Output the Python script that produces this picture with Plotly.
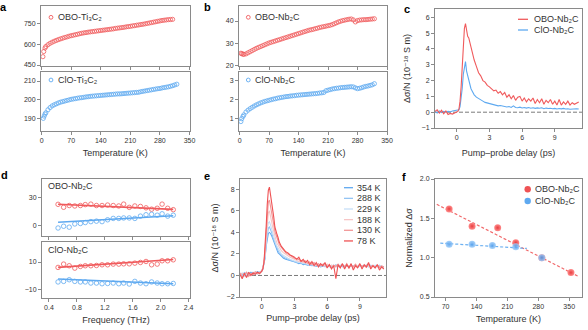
import plotly.graph_objects as go

# ---------------- data ----------------
# panel a
temp_a_obo = [3, 5, 8, 10, 15, 20, 25, 30, 35, 40, 45, 50, 55, 60, 65, 70, 75, 80, 85, 90,
              95, 100, 105, 110, 115, 120, 125, 130, 135, 140, 145, 150, 155, 160, 165, 170,
              175, 180, 185, 190, 195, 200, 205, 210, 215, 220, 225, 230, 235, 240, 245, 250,
              255, 260, 265, 270, 275, 280, 285, 290, 295, 300, 305, 310]
sigma_a_obo = [510, 547, 572, 583, 596, 606, 614, 621, 627, 633, 638, 643, 648, 652, 657, 661,
               664, 668, 671, 675, 678, 681, 683, 686, 688, 690, 692, 694, 696, 698, 700, 702,
               704, 706, 708, 710, 713, 715, 717, 719, 721, 724, 726, 728, 731, 733, 736, 738,
               741, 743, 746, 749, 752, 755, 758, 761, 764, 767, 770, 772, 774, 776, 777, 778]
temp_a_clo = [4, 6, 8, 10, 15, 20, 25, 30, 35, 40, 45, 50, 55, 60, 65, 70, 75, 80, 85, 90,
              95, 100, 105, 110, 115, 120, 125, 130, 135, 140, 145, 150, 155, 160, 165, 170,
              175, 180, 185, 190, 195, 200, 205, 210, 215, 220, 225, 230, 235, 240, 245, 250,
              255, 260, 265, 270, 275, 280, 285, 290, 295, 300, 305, 310, 315, 320]
sigma_a_clo = [190.0, 191.2, 192.3, 193.0, 194.6, 195.8, 196.7, 197.3, 197.8, 198.3, 198.7,
               199.0, 199.3, 199.6, 199.9, 200.2, 200.4, 200.6, 200.8, 201.0, 201.1, 201.3,
               201.5, 201.6, 201.8, 201.9, 202.0, 202.1, 202.2, 202.3, 202.4, 202.5, 202.6,
               202.7, 202.8, 202.9, 203.0, 203.1, 203.1, 203.2, 203.3, 203.4, 203.5, 203.6,
               203.7, 203.8, 203.9, 204.0, 204.3, 204.5, 204.7, 204.9, 205.1, 205.3, 205.5,
               205.7, 205.9, 206.0, 206.3, 206.5, 206.7, 206.9, 207.2, 207.5, 207.9, 208.3]

# panel b
temp_b = [3, 5, 8, 10, 15, 20, 25, 30, 35, 40, 45, 50, 55, 60, 65, 70, 75, 80, 85, 90,
          95, 100, 105, 110, 115, 120, 125, 130, 135, 140, 145, 150, 155, 160, 165, 170,
          175, 180, 185, 190, 195, 200, 205, 210, 215, 220, 225, 230, 235, 240, 245, 250,
          255, 260, 265, 270, 275, 280, 285, 290, 295, 300, 305, 310, 315, 320]
sigma_b_obo = [25.6, 25.4, 25.2, 25.1, 25.3, 25.8, 26.3, 26.8, 27.3, 27.8, 28.2, 28.6, 29.0,
               29.4, 29.8, 30.2, 30.5, 30.8, 31.1, 31.4, 31.7, 32.0, 32.3, 32.6, 32.9, 33.2,
               33.5, 33.8, 34.1, 34.4, 34.7, 35.0, 35.3, 35.6, 35.9, 36.1, 36.3, 36.6, 36.8,
               37.1, 37.3, 37.5, 37.7, 37.9, 38.1, 38.4, 38.8, 39.2, 39.6, 39.9, 40.2, 40.4,
               40.6, 40.8, 40.9, 40.5, 39.6, 40.2, 40.4, 40.5, 40.6, 40.6, 40.7, 40.8, 40.9, 41.0]
sigma_b_clo = [0.85, 1.0, 1.12, 1.2, 1.35, 1.45, 1.53, 1.6, 1.67, 1.73, 1.78, 1.83, 1.87, 1.91,
               1.94, 1.97, 2.0, 2.03, 2.05, 2.08, 2.1, 2.12, 2.14, 2.16, 2.17, 2.19, 2.2, 2.21,
               2.23, 2.24, 2.25, 2.26, 2.27, 2.28, 2.29, 2.3, 2.31, 2.32, 2.33, 2.35, 2.36, 2.38,
               2.47, 2.5, 2.53, 2.56, 2.58, 2.6, 2.61, 2.63, 2.64, 2.65, 2.66, 2.67, 2.68, 2.67,
               2.62, 2.58, 2.6, 2.63, 2.67, 2.7, 2.72, 2.75, 2.78, 2.84]

# panels c and e: pump-probe delay (ps)
delay = [-2.0, -1.8, -1.6, -1.4, -1.2, -1.0, -0.8, -0.6, -0.4, -0.2, 0.0,
         0.1, 0.2, 0.3, 0.4, 0.5, 0.6, 0.7, 0.8, 0.9, 1.0, 1.1, 1.2, 1.3, 1.4, 1.5, 1.6,
         1.8, 2.0, 2.2, 2.4, 2.6, 2.8, 3.0, 3.2, 3.4, 3.6, 3.8, 4.0, 4.2, 4.4, 4.6, 4.8,
         5.0, 5.2, 5.4, 5.6, 5.8, 6.0, 6.2, 6.4, 6.6, 6.8, 7.0, 7.2, 7.4, 7.6, 7.8, 8.0,
         8.2, 8.4, 8.6, 8.8, 9.0, 9.2, 9.4, 9.6, 9.8, 10.0, 10.2, 10.4, 10.6, 10.8, 11.0, 11.2]
c_obo = [0.05, 0.15, -0.05, 0.12, -0.1, 0.08, -0.15, -0.08, -0.12, -0.05, -0.02,
         0.05, 0.2, 0.7, 1.6, 2.9, 4.3, 5.3, 5.6, 5.2, 4.8, 4.7, 4.4, 4.1, 3.9, 3.6, 3.3,
         2.9, 2.5, 2.3, 2.0, 1.9, 1.7, 1.6, 1.5, 1.35, 1.4, 1.2, 1.3, 1.1, 1.25, 0.95, 1.1,
         0.85, 1.05, 0.75, 0.95, 1.0, 0.7, 0.9, 0.65, 0.85, 0.7, 0.9, 0.55, 0.8, 0.6, 0.85,
         0.5, 0.75, 0.6, 0.8, 0.5, 0.7, 0.45, 0.8, 0.45, 0.65, 0.5, 0.7, 0.45, 0.6, 0.5, 0.6, 0.65]
c_clo = [0.05, -0.05, 0.08, -0.02, 0.05, 0.0, 0.06, 0.02, 0.08, 0.1, 0.12,
         0.1, 0.15, 0.35, 0.8, 1.5, 2.4, 3.0, 3.2, 2.6, 2.3, 2.1, 1.8, 1.5, 1.35, 1.2, 1.1,
         0.95, 0.85, 0.75, 0.7, 0.62, 0.58, 0.55, 0.5, 0.45, 0.45, 0.4, 0.42, 0.38, 0.35, 0.33,
         0.36, 0.3, 0.4, 0.3, 0.28, 0.32, 0.27, 0.3, 0.26, 0.3, 0.25, 0.28, 0.24, 0.27, 0.25,
         0.28, 0.22, 0.26, 0.23, 0.25, 0.22, 0.24, 0.2, 0.23, 0.21, 0.24, 0.2, 0.22, 0.19,
         0.21, 0.2, 0.22, 0.2]

e_labels = ["354 K", "288 K", "229 K", "188 K", "130 K", "78 K"]
e_354 = [0.2, 0.0, 0.25, -0.1, 0.15, 0.3, 0.1, 0.2, 0.35, 0.25, 0.4,
         0.6, 1.0, 1.6, 2.7, 3.5, 3.9, 4.0, 3.9, 3.7, 3.4, 3.1, 2.8, 2.5, 2.3, 2.1, 2.0,
         1.8, 1.6, 1.5, 1.45, 1.35, 1.3, 1.25, 1.2, 1.1, 1.15, 1.0, 1.05, 0.95, 1.0, 0.9, 0.95,
         0.85, 1.0, 0.8, 0.9, 0.95, 0.8, 0.9, 0.75, 0.95, 0.8, 0.9, 0.85, 1.0, 0.8, 0.9, 0.75,
         0.95, 0.85, 0.9, 0.8, 1.0, 0.85, 0.9, 0.8, 1.05, 0.85, 0.9, 0.75, 0.95, 0.8, 0.85, 0.7]
e_288 = [0.1, 0.2, -0.05, 0.15, 0.25, 0.05, 0.3, 0.15, 0.2, 0.35, 0.45,
         0.7, 1.1, 1.7, 2.9, 3.9, 4.4, 4.5, 4.3, 4.0, 3.6, 3.3, 3.0, 2.7, 2.5, 2.3, 2.1,
         1.9, 1.7, 1.6, 1.5, 1.4, 1.35, 1.3, 1.2, 1.25, 1.1, 1.15, 1.0, 1.1, 0.95, 1.05, 0.9,
         1.0, 0.85, 0.95, 1.0, 0.8, 0.95, 0.85, 0.9, 0.8, 1.0, 0.85, 0.95, 0.8, 0.9, 0.95, 0.8,
         0.9, 0.85, 1.0, 0.8, 0.9, 0.85, 0.95, 0.9, 0.8, 0.95, 0.85, 0.9, 0.8, 0.95, 0.75, 0.8]
e_229 = [0.15, -0.1, 0.2, 0.05, 0.3, 0.1, 0.2, 0.25, 0.1, 0.3, 0.4,
         0.7, 1.2, 1.8, 3.2, 4.3, 4.9, 5.0, 4.7, 4.3, 3.9, 3.5, 3.2, 2.9, 2.7, 2.5, 2.3,
         2.0, 1.85, 1.7, 1.6, 1.5, 1.4, 1.35, 1.3, 1.2, 1.25, 1.1, 1.15, 1.0, 1.1, 0.95, 1.0,
         0.9, 1.05, 0.85, 0.95, 0.9, 1.0, 0.8, 0.95, 0.85, 0.9, 1.0, 0.8, 0.95, 0.85, 0.9, 0.8,
         1.0, 0.85, 0.9, 0.8, 0.95, 0.9, 0.85, 1.0, 0.8, 0.9, 0.85, 0.95, 0.8, 0.9, 0.85, 0.75]
e_188 = [-0.1, 0.2, 0.1, -0.15, 0.25, 0.05, 0.2, 0.3, 0.15, 0.25, 0.45,
         0.7, 1.2, 2.0, 3.6, 5.0, 5.8, 6.0, 5.6, 5.0, 4.5, 4.0, 3.6, 3.3, 3.0, 2.8, 2.6,
         2.3, 2.1, 1.95, 1.85, 1.7, 1.6, 1.5, 1.45, 1.3, 1.35, 1.2, 1.25, 1.1, 1.2, 1.0, 1.1,
         0.95, 1.05, 0.9, 1.0, 0.85, 1.05, 0.8, 0.95, 0.9, 0.8, 1.0, 0.85, 1.05, 0.8, 0.95, 0.85,
         1.0, 0.75, 0.95, 0.85, 1.05, 0.8, 0.9, 0.85, 1.0, 0.75, 0.95, 0.8, 0.9, 0.85, 0.8, 0.7]
e_130 = [0.25, -0.2, 0.1, 0.3, -0.1, 0.2, 0.05, 0.35, 0.2, 0.15, 0.4,
         0.7, 1.3, 2.2, 4.0, 5.8, 6.8, 7.0, 6.5, 5.9, 5.2, 4.7, 4.1, 3.7, 3.5, 3.2, 2.9,
         2.6, 2.3, 2.1, 2.0, 1.85, 1.75, 1.6, 1.55, 1.45, 1.4, 1.3, 1.35, 1.15, 1.25, 1.05, 1.2,
         0.95, 1.1, 0.9, 1.05, 1.1, 0.8, 1.0, 0.7, 0.95, 0.85, 1.05, 0.75, 1.0, 0.8, 1.1, 0.7,
         0.95, 0.8, 1.05, 0.75, 1.0, 0.85, 0.9, 0.75, 1.05, 0.8, 0.95, 0.7, 1.0, 0.75, 0.9, 0.8]
e_78 = [0.1, -0.3, 0.2, -0.2, 0.3, 0.0, 0.25, 0.1, 0.3, 0.2, 0.4,
        0.6, 1.2, 2.5, 4.5, 6.6, 7.9, 8.2, 7.6, 7.0, 6.1, 5.4, 4.5, 4.0, 3.8, 3.5, 3.1,
        2.7, 2.4, 2.2, 2.1, 1.9, 1.8, 1.7, 1.5, 1.7, 1.3, 1.5, 1.2, 1.4, 1.0, 1.3, 0.9,
        1.2, 0.8, 1.1, 0.9, 1.2, 0.7, 1.0, 0.6, 0.9, -0.3, 1.0, 0.7, 1.1, 0.6, 1.0, 0.7,
        1.1, 0.5, 0.9, 0.7, 1.1, 0.6, 1.0, 0.8, 1.2, 0.6, 0.9, 0.7, 1.0, 0.5, 0.8, 0.6]

# panel d: frequency (THz)
freq_d = [0.53, 0.61, 0.69, 0.77, 0.85, 0.92, 1.00, 1.08, 1.16, 1.24, 1.32, 1.40, 1.47,
          1.55, 1.63, 1.71, 1.79, 1.87, 1.95, 2.02, 2.10, 2.18]
d_top_obo = [22.8, 19.6, 21.5, 21.0, 21.5, 22.5, 23.0, 21.5, 21.5, 22.0, 21.5, 21.0, 23.0,
             19.5, 21.0, 20.5, 19.0, 17.5, 18.5, 23.0, 18.5, 17.0]
d_top_clo = [-2.9, -1.0, -2.0, 1.5, 2.0, 3.0, 4.0, 4.5, 4.0, 6.0, 7.5, 7.5, 8.0, 8.0, 7.5,
             10.0, 11.5, 12.0, 11.0, 12.5, 10.0, 11.0]
d_bot_obo = [6.1, 8.5, 7.3, 5.6, 6.8, 7.3, 7.3, 7.5, 8.0, 8.0, 8.5, 8.5, 8.7, 8.7, 9.2,
             9.7, 10.4, 8.0, 8.5, 10.9, 10.9, 11.6]
d_bot_clo = [-4.4, -4.0, -2.8, -4.0, -4.4, -4.4, -5.2, -5.2, -5.7, -5.5, -5.2, -5.7, -5.2,
             -5.9, -4.0, -5.2, -5.7, -4.4, -5.2, -5.7, -5.7, -5.5]
fit_freq = [0.53, 2.18]
fit_top_obo = [22.8, 17.3]
fit_top_clo = [3.3, 10.4]
fit_bot_obo = [6.1, 11.8]
fit_bot_clo = [-2.3, -5.7]

# panel f
temp_f_obo = [78, 130, 188, 229, 288, 354]
norm_f_obo = [1.62, 1.40, 1.38, 1.19, 1.00, 0.81]
temp_f_clo = [78, 130, 176, 229, 288]
norm_f_clo = [1.17, 1.17, 1.155, 1.14, 1.00]
fit_f_obo_temp = [50, 370]
fit_f_obo = [1.678, 0.764]
fit_f_clo_temp = [58, 254]
fit_f_clo = [1.185, 1.117]

assert len(temp_a_obo) == len(sigma_a_obo)
assert len(temp_a_clo) == len(sigma_a_clo)
assert len(temp_b) == len(sigma_b_obo) == len(sigma_b_clo)
for arr in (c_obo, c_clo, e_354, e_288, e_229, e_188, e_130, e_78):
    assert len(arr) == len(delay), len(arr)
for arr in (d_top_obo, d_top_clo, d_bot_obo, d_bot_clo):
    assert len(arr) == len(freq_d)

# ---------------- style ----------------
W, H = 588, 330
FONT = "Liberation Sans, DejaVu Sans"
RED = "#F05A5C"
BLUE = "#5EA9F0"
AX = "#8a8a8a"
TXT = "#333333"
E_COLORS = ["#5FA8F0", "#93C4F3", "#C6DFF7", "#F7C6C6", "#F29696", "#EF5254"]
TICK_SIZE = 7
TITLE_SIZE = 9
LEG_SIZE = 9

SIG = "σ (S m⁻¹)"
DSN = "Δσ/N (10⁻¹⁸ S m)"
OBO_NB = "OBO-Nb₂C"
CLO_NB = "ClO-Nb₂C"


def fx(p):
    return p / W


def fy(p):
    return 1 - p / H


fig = go.Figure()
layout = dict(width=W, height=H, margin=dict(l=0, r=0, t=0, b=0),
              paper_bgcolor="white", plot_bgcolor="white", showlegend=False,
              font=dict(family=FONT, size=8, color=TXT))


def title(s, standoff):
    return dict(text=s, standoff=standoff, font=dict(family=FONT, size=TITLE_SIZE, color=TXT))


def add_axes(n, xd, yd, xr, yr, xticks, yticks, xlabels=True, xfmt=None, yfmt=None,
             xtitle=None, ytitle=None):
    common = dict(showline=True, mirror=True, linecolor=AX, linewidth=1, ticks="outside",
                  ticklen=3, tickwidth=1, tickcolor=AX, showgrid=False, zeroline=False,
                  tickfont=dict(size=TICK_SIZE, color=TXT, family=FONT), fixedrange=True,
                  automargin=False)
    sx = "" if n == 1 else str(n)
    xa = dict(common, domain=[fx(xd[0]), fx(xd[1])], range=xr, tickvals=xticks,
              showticklabels=xlabels, anchor="y" + sx, tickformat=xfmt)
    ya = dict(common, domain=[fy(yd[1]), fy(yd[0])], range=yr, tickvals=yticks,
              anchor="x" + sx, tickformat=yfmt)
    if xtitle:
        xa["title"] = title(*xtitle)
    if ytitle:
        ya["title"] = title(*ytitle)
    layout["xaxis" + sx] = xa
    layout["yaxis" + sx] = ya


def title_axes(n, xd, yd, ytitle):
    # invisible axis pair spanning two stacked boxes, carrying their shared y title
    hidden = dict(showline=False, showticklabels=False, ticks="", showgrid=False,
                  zeroline=False, fixedrange=True, automargin=False, range=[0, 1])
    layout[f"xaxis{n}"] = dict(hidden, domain=[fx(xd[0]), fx(xd[1])], anchor=f"y{n}")
    layout[f"yaxis{n}"] = dict(hidden, domain=[fy(yd[1]), fy(yd[0])], anchor=f"x{n}",
                               title=title(*ytitle))


temp_ticks = [0, 70, 140, 210, 280, 350]
add_axes(1, (41, 189.5), (6, 66), [-1.5, 350], [443, 874], temp_ticks, [450, 600, 750], False)
add_axes(2, (41, 189.5), (71.7, 130.7), [-1.5, 350], [183.4, 215], temp_ticks, [190, 200, 210],
         xtitle=("Temperature (K)", 6))
add_axes(3, (239, 387), (6, 66), [-1.5, 350], [19.9, 46.7], temp_ticks, [20, 30, 40], False)
add_axes(4, (239, 387), (71.7, 130.7), [-1.5, 350], [0.37, 3.47], temp_ticks, [1, 2, 3],
         xtitle=("Temperature (K)", 6))
add_axes(5, (435, 582), (9, 128), [-2, 11.5], [-1, 6.53], [0, 3, 6, 9],
         [-1, 0, 1, 2, 3, 4, 5, 6], xtitle=("Pump–probe delay (ps)", 9), ytitle=(DSN, 9))
add_axes(6, (42, 190), (179, 236), [0.3, 2.42], [-11.6, 50.3],
         [0.4, 0.8, 1.2, 1.6, 2.0, 2.4], [0, 30], False, ".1f")
add_axes(7, (42, 190), (241.7, 297.7), [0.3, 2.42], [-15.8, 24.7],
         [0.4, 0.8, 1.2, 1.6, 2.0, 2.4], [-10, 10], True, ".1f",
         xtitle=("Frequency (THz)", 6))
add_axes(8, (240, 386), (179, 297), [-2, 11.4], [-2, 8.96], [0, 3, 6, 9],
         [-2, 0, 2, 4, 6, 8], xtitle=("Pump–probe delay (ps)", 5), ytitle=(DSN, 6))
add_axes(9, (435, 582), (179, 297), [46, 379], [0.5, 2.0], [70, 140, 210, 280, 350],
         [0.5, 1.0, 1.5, 2.0], True, None, ".1f",
         xtitle=("Temperature (K)", 6), ytitle=("Normalized Δσ", 5))
title_axes(10, (41, 189.5), (6, 130.7), (SIG, 20))
title_axes(11, (239, 387), (6, 130.7), (SIG, 18))
title_axes(12, (42, 190), (179, 297.7), ("Δσ (S m⁻¹)", 21))


def open_markers(x, y, n, color, size=4.2):
    sx = "" if n == 1 else str(n)
    fig.add_trace(go.Scatter(x=x, y=y, xaxis="x" + sx, yaxis="y" + sx, mode="markers",
                             marker=dict(symbol="circle-open", size=size, color=color,
                                         line=dict(width=0.8, color=color))))


def line(x, y, n, color, width=1.2, dash=None, opacity=1.0):
    sx = "" if n == 1 else str(n)
    fig.add_trace(go.Scatter(x=x, y=y, xaxis="x" + sx, yaxis="y" + sx, mode="lines",
                             opacity=opacity,
                             line=dict(color=color, width=width, dash=dash)))


# a, b
open_markers(temp_a_obo, sigma_a_obo, 1, RED)
open_markers(temp_a_clo, sigma_a_clo, 2, BLUE)
open_markers(temp_b, sigma_b_obo, 3, RED)
open_markers(temp_b, sigma_b_clo, 4, BLUE)

# c
line(delay, c_clo, 5, BLUE, 1.1)
line(delay, c_obo, 5, RED, 1.1)

# d
open_markers(freq_d, d_top_obo, 6, RED, 4.5)
open_markers(freq_d, d_top_clo, 6, BLUE, 4.5)
line(fit_freq, fit_top_obo, 6, RED, 1.6)
line(fit_freq, fit_top_clo, 6, BLUE, 1.6)
open_markers(freq_d, d_bot_obo, 7, RED, 4.5)
open_markers(freq_d, d_bot_clo, 7, BLUE, 4.5)
line(fit_freq, fit_bot_obo, 7, RED, 1.6)
line(fit_freq, fit_bot_clo, 7, BLUE, 1.6)

# e
for arr, col in zip([e_354, e_288, e_229, e_188, e_130, e_78], E_COLORS):
    line(delay, arr, 8, col, 1.1)

# f
line(fit_f_obo_temp, fit_f_obo, 9, RED, 1.2, "3px,2px", 0.9)
line(fit_f_clo_temp, fit_f_clo, 9, BLUE, 1.2, "3px,2px", 0.9)
fig.add_trace(go.Scatter(x=temp_f_obo, y=norm_f_obo, xaxis="x9", yaxis="y9", mode="markers",
                         marker=dict(size=7, color="#FF8C8C",
                                     gradient=dict(type="radial", color="#E83E40"),
                                     line=dict(width=0))))
fig.add_trace(go.Scatter(x=temp_f_clo, y=norm_f_clo, xaxis="x9", yaxis="y9", mode="markers",
                         opacity=0.85,
                         marker=dict(size=7, color="#9ACBFA",
                                     gradient=dict(type="radial", color="#4C9AEA"),
                                     line=dict(width=0))))

# ---------------- decorations ----------------
shapes = []
for n in (5, 8):
    shapes.append(dict(type="line", xref=f"x{n} domain", x0=0, x1=1, yref=f"y{n}", y0=0, y1=0,
                       line=dict(color="#7a7a7a", width=1, dash="4px,2px"), layer="below"))

annotations = []


def text(x, y, s, size=LEG_SIZE, xanchor="left", yanchor="middle", bold=False):
    annotations.append(dict(xref="paper", yref="paper", x=fx(x), y=fy(y), text=s,
                            showarrow=False, xanchor=xanchor, yanchor=yanchor,
                            font=dict(family=FONT, size=size, color="#000" if bold else TXT,
                                      weight="bold" if bold else "normal")))


def circle_key(cx, cy, r, color, filled):
    shapes.append(dict(type="circle", xref="paper", yref="paper",
                       x0=fx(cx - r), x1=fx(cx + r), y0=fy(cy + r), y1=fy(cy - r),
                       line=dict(color=color, width=0.9 if not filled else 0),
                       fillcolor=color if filled else "rgba(0,0,0,0)"))


def line_key(x0, x1, y, color):
    shapes.append(dict(type="line", xref="paper", yref="paper", x0=fx(x0), x1=fx(x1),
                       y0=fy(y), y1=fy(y), line=dict(color=color, width=1.3)))


# panel letters
for lx, ly, s in [(3.5, 7.5, "a"), (207, 7.5, "b"), (406.5, 8.5, "c"),
                  (4, 174.5, "d"), (207, 175.5, "e"), (404, 177, "f")]:
    text(lx, ly, s, size=11, xanchor="center", bold=True)

# in-panel legends
circle_key(51, 17.3, 1.9, RED, False)
text(56, 17.3, "OBO-Ti₃C₂")
circle_key(51, 80, 1.9, BLUE, False)
text(56, 80, "ClO-Ti₃C₂")
circle_key(248.3, 17.3, 1.9, RED, False)
text(253, 17.3, OBO_NB)
circle_key(248.3, 80, 1.9, BLUE, False)
text(253, 80, CLO_NB)

line_key(518, 528, 19.3, RED)
text(532, 19.3, OBO_NB)
line_key(518, 528, 30, BLUE)
text(532, 30, CLO_NB)

text(45.5, 186, OBO_NB)
text(45.5, 250, CLO_NB)

for i, (lab, col) in enumerate(zip(e_labels, E_COLORS)):
    yy = 187.7 + i * 10.65
    line_key(344, 353, yy, col)
    text(355, yy, lab)

circle_key(527.7, 189.3, 3.2, "#EF5254", True)
text(533, 189.3, OBO_NB)
circle_key(527.7, 201, 3.2, "#5EA9F0", True)
text(533, 201, CLO_NB)

layout["shapes"] = shapes
layout["annotations"] = annotations
fig.update_layout(**layout)
fig.write_html("out.html")
